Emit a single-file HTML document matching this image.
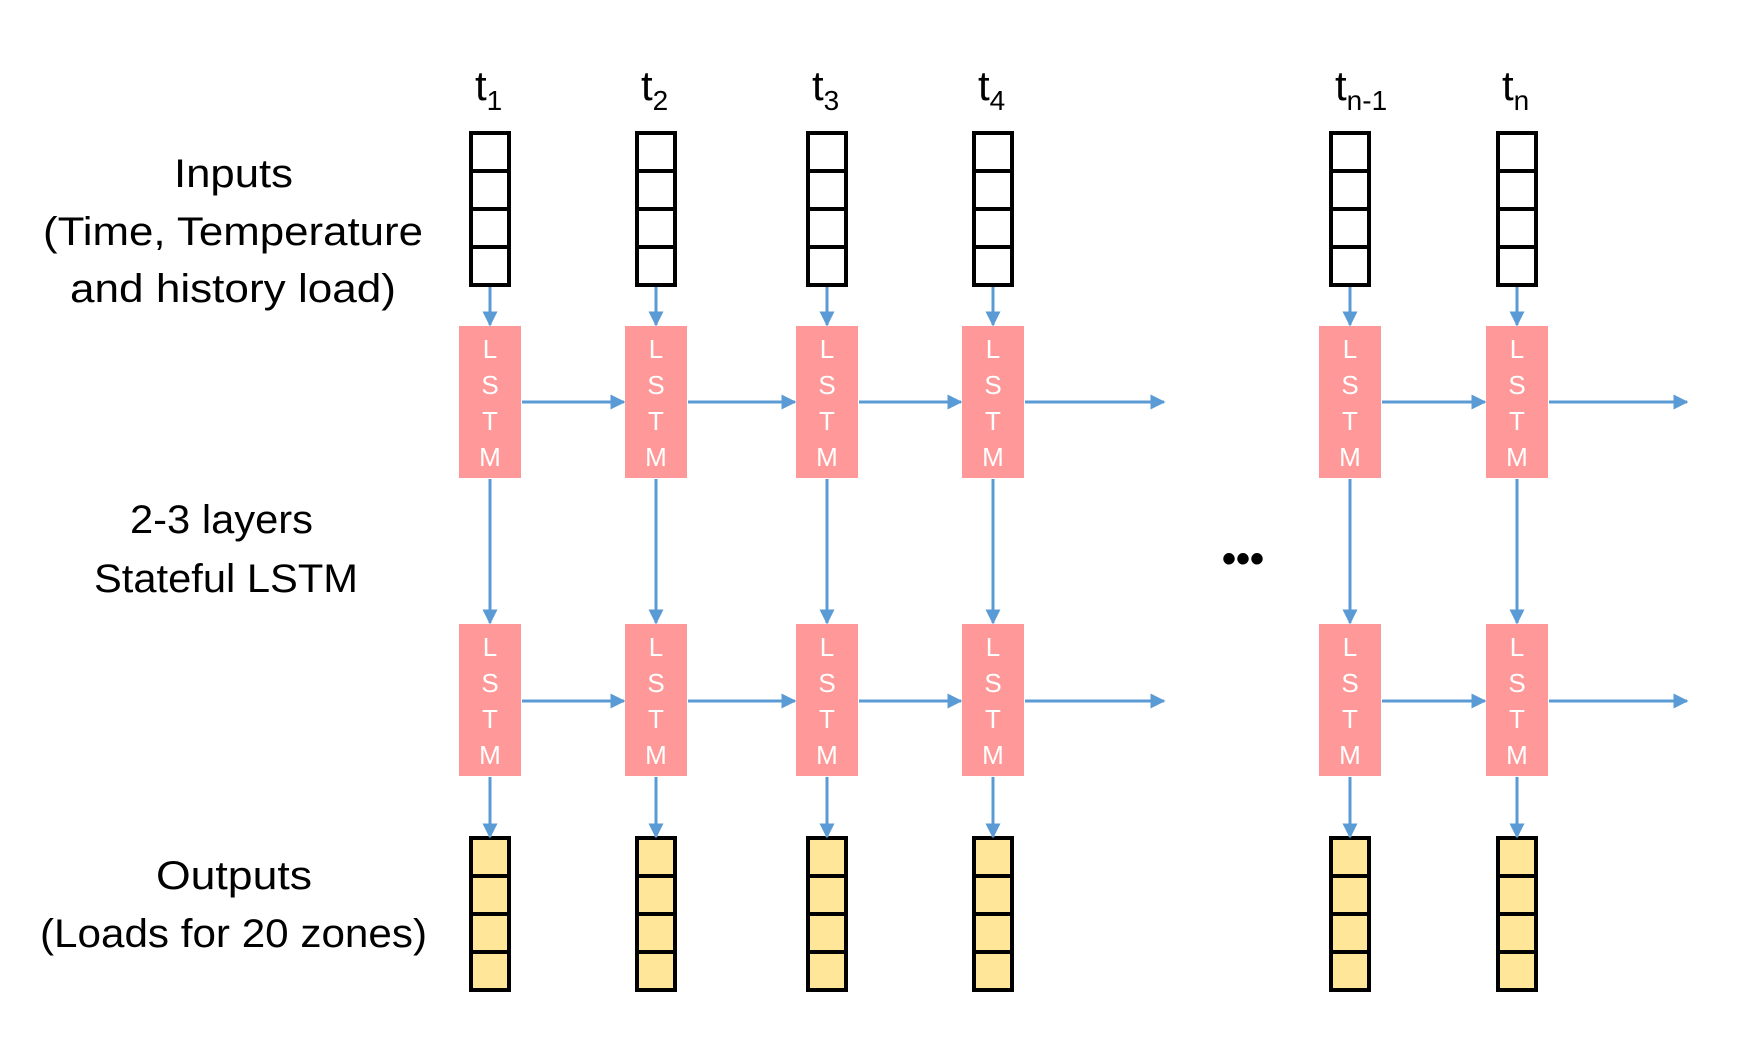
<!DOCTYPE html>
<html><head><meta charset="utf-8"><style>html,body{margin:0;padding:0;background:#fff}svg{display:block}</style></head>
<body>
<svg width="1751" height="1055" viewBox="0 0 1751 1055" xmlns="http://www.w3.org/2000/svg">
<defs>
<marker id="a" viewBox="0 0 10 10" refX="9" refY="5" markerWidth="5" markerHeight="5" orient="auto" markerUnits="strokeWidth"><path d="M0,0 L10,5 L0,10 z" fill="#5b9bd5"/></marker>
</defs>
<g font-family="Liberation Sans, sans-serif" fill="#000" font-size="40">
<text x="174" y="187" textLength="119" lengthAdjust="spacingAndGlyphs">Inputs</text>
<text x="43" y="245" textLength="380" lengthAdjust="spacingAndGlyphs">(Time, Temperature</text>
<text x="70" y="302" textLength="326" lengthAdjust="spacingAndGlyphs">and history load)</text>
<text x="130" y="533" textLength="183" lengthAdjust="spacingAndGlyphs">2-3 layers</text>
<text x="94" y="592" textLength="264" lengthAdjust="spacingAndGlyphs">Stateful LSTM</text>
<text x="156" y="889" textLength="156" lengthAdjust="spacingAndGlyphs">Outputs</text>
<text x="40" y="947" textLength="387" lengthAdjust="spacingAndGlyphs">(Loads for 20 zones)</text>
</g>
<text x="1243" y="572" font-family="Liberation Sans, sans-serif" font-size="40" font-weight="bold" text-anchor="middle">•••</text>
<g id="cols" font-family="Liberation Sans, sans-serif">
</g>
<script>
const cols=[490,656,827,993,1350,1517];
const labs=[["t","1"],["t","2"],["t","3"],["t","4"],["t","n-1"],["t","n"]];
const NS="http://www.w3.org/2000/svg";
const g=document.getElementById("cols");
function el(n,a,t){const e=document.createElementNS(NS,n);for(const k in a)e.setAttribute(k,a[k]);if(t!==undefined)e.textContent=t;g.appendChild(e);return e;}
cols.forEach((c,i)=>{
  const tx=el("text",{x:c-15,y:100,"font-size":42});
  tx.textContent="t";
  const s=document.createElementNS(NS,"tspan");s.setAttribute("font-size","28");s.setAttribute("dy","10");s.textContent=labs[i][1];tx.appendChild(s);
  el("rect",{x:c-19,y:133,width:38,height:152,fill:"#fff",stroke:"#000","stroke-width":4});
  for(let k=1;k<4;k++)el("line",{x1:c-19,x2:c+19,y1:133+38*k,y2:133+38*k,stroke:"#000","stroke-width":4});
  el("rect",{x:c-19,y:838,width:38,height:152,fill:"#ffe699",stroke:"#000","stroke-width":4});
  for(let k=1;k<4;k++)el("line",{x1:c-19,x2:c+19,y1:838+38*k,y2:838+38*k,stroke:"#000","stroke-width":4});
  [326,624].forEach(y=>{
    el("rect",{x:c-31,y:y,width:62,height:152,fill:"#ff9999"});
    ["L","S","T","M"].forEach((L,j)=>el("text",{x:c,y:y+32+36*j,"font-size":26,fill:"#fff","text-anchor":"middle"},L));
  });
  const st={stroke:"#5b9bd5","stroke-width":3,"marker-end":"url(#a)"};
  el("line",Object.assign({x1:c,y1:287,x2:c,y2:325},st));
  el("line",Object.assign({x1:c,y1:479,x2:c,y2:623},st));
  el("line",Object.assign({x1:c,y1:777,x2:c,y2:837},st));
  [402,701].forEach(y=>{
    let x2 = (i==3)?1164:(i==5)?1687:(cols[i+1]-32);
    el("line",Object.assign({x1:c+32,y1:y,x2:x2,y2:y},st));
  });
});
</script>
</svg>
</body></html>
